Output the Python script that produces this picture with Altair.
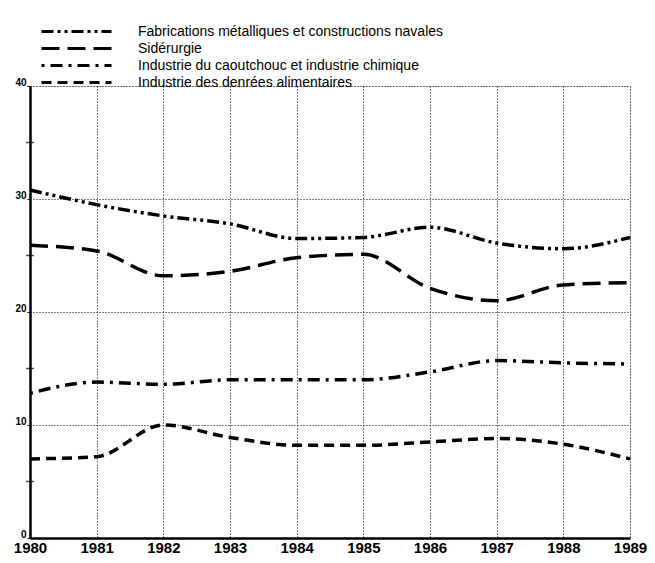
import altair as alt
import pandas as pd

years = [1980, 1981, 1982, 1983, 1984, 1985, 1986, 1987, 1988, 1989]
series_names = [
    "Fabrications métalliques et constructions navales",
    "Sidérurgie",
    "Industrie du caoutchouc et industrie chimique",
    "Industrie des denrées alimentaires",
]
fabrications = [30.8, 29.5, 28.5, 27.8, 26.5, 26.6, 27.5, 26.1, 25.6, 26.6]
siderurgie = [25.9, 25.4, 23.2, 23.6, 24.8, 25.1, 22.1, 21.0, 22.4, 22.6]
caoutchouc = [12.8, 13.8, 13.6, 14.0, 14.0, 14.0, 14.7, 15.7, 15.5, 15.4]
denrees = [7.0, 7.2, 10.0, 8.9, 8.2, 8.2, 8.5, 8.8, 8.3, 7.0]
dashes = [[12, 4, 3, 4, 3, 4], [18, 8], [3, 6, 12, 6], [10, 6]]

rows = []
for name, vals in zip(series_names, [fabrications, siderurgie, caoutchouc, denrees]):
    for y, v in zip(years, vals):
        rows.append({"year": y, "value": v, "series": name})
df = pd.DataFrame(rows)

minor = pd.DataFrame({"year": [1980] * 4, "value": [5, 15, 25, 35]})

FONT = "Liberation Sans"

lines = alt.Chart(df).mark_line(interpolate="monotone", color="black", strokeWidth=3.5).encode(
    x=alt.X("year:Q", scale=alt.Scale(domain=[1980, 1989], nice=False, zero=False),
            axis=alt.Axis(values=years, format="d", title=None, grid=True,
                          gridDash=[1, 2], gridColor="black", gridWidth=1, gridOpacity=1,
                          domainColor="black", domainWidth=2.5, ticks=False,
                          labelFont=FONT, labelFontSize=15, labelFontWeight="bold",
                          labelColor="black", labelPadding=2, labelFlush=False)),
    y=alt.Y("value:Q", scale=alt.Scale(domain=[0, 40], nice=False),
            axis=alt.Axis(values=[0, 10, 20, 30, 40], title=None, grid=True,
                          gridDash=[1, 2], gridColor="black", gridWidth=1, gridOpacity=1,
                          domainColor="black", domainWidth=2.5, tickColor="black", tickSize=3,
                          labelFont=FONT, labelFontSize=10, labelFontWeight="bold",
                          labelColor="black", labelPadding=1,
                          labelBaseline="alphabetic", labelOffset=-1)),
    strokeDash=alt.StrokeDash("series:N",
                              scale=alt.Scale(domain=series_names, range=dashes),
                              legend=alt.Legend(title=None, orient="none", legendX=38, legendY=-63,
                                                symbolType="M-5,0H5", symbolSize=196,
                                                symbolStrokeWidth=3, symbolStrokeColor="black",
                                                labelFont=FONT, labelFontSize=14,
                                                labelColor="black", labelOffset=53,
                                                rowPadding=1, labelLimit=500)),
)

ticks = alt.Chart(minor).mark_tick(orient="horizontal", color="black", size=8, thickness=1.5).encode(
    x="year:Q", y="value:Q"
)

chart = alt.layer(lines, ticks).properties(
    width=600, height=452,
    autosize=alt.AutoSizeParams(type="none"),
    padding={"left": 22, "top": 78, "right": 17, "bottom": 17},
).configure_view(stroke="black", strokeDash=[1, 2], strokeWidth=1).configure(background="white")

chart.save("out.html", embed_options={"renderer": "svg", "actions": False})
